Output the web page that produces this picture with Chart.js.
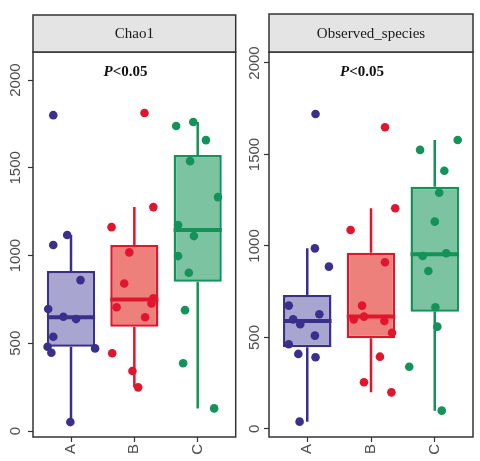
<!DOCTYPE html>
<html>
<head>
<meta charset="utf-8">
<script src="https://cdn.jsdelivr.net/npm/chart.js@4.4.1/dist/chart.umd.min.js"></script>
<style>
  body { margin: 0; background: #fff; }
  .panel { position: absolute; top: 0; width: 240px; height: 461px; }
</style>
</head>
<body>
<div class="panel" style="left:0"><canvas id="chartChao1"></canvas></div>
<div class="panel" style="left:240px"><canvas id="chartObserved"></canvas></div>
<script>
// ==========================
//  Datos
// ==========================
const grupos = ["A", "B", "C"];
const ticksY = [0, 500, 1000, 1500, 2000];

// Chao1: puntos por grupo y su desplazamiento (jitter) en unidades de grupo
const chao1A = [1800, 1060, 1117, 860, 695, 651, 638, 537, 480, 446, 471, 51];
const chao1AJit = [-0.28, -0.28, -0.06, 0.15, -0.36, -0.12, 0.08, -0.28, -0.37, -0.31, 0.38, -0.01];
const chao1B = [1812, 1276, 1162, 1018, 841, 705, 727, 756, 648, 443, 342, 249];
const chao1BJit = [0.16, 0.3, -0.36, -0.08, -0.16, -0.28, 0.27, 0.3, 0.17, -0.35, -0.03, 0.06];
const chao1C = [1738, 1761, 1658, 1538, 1333, 1174, 1111, 997, 902, 689, 386, 129];
const chao1CJit = [-0.34, -0.07, 0.13, -0.12, 0.32, -0.31, -0.06, -0.31, -0.14, -0.2, -0.23, 0.26];

// Chao1: cajas
const chao1Min = [51, 249, 129];
const chao1Q1 = [480, 594, 851];
const chao1Med = [648, 750, 1145];
const chao1Q3 = [912, 1060, 1573];
const chao1Max = [1117, 1276, 1761];

// Observed_species: puntos
const obsA = [1721, 987, 887, 674, 627, 599, 572, 510, 463, 410, 392, 40];
const obsAJit = [0.13, 0.12, 0.34, -0.29, 0.19, -0.22, -0.11, 0.12, -0.29, -0.14, 0.13, -0.12];
const obsB = [1649, 1206, 1087, 911, 674, 599, 614, 590, 526, 395, 255, 200];
const obsBJit = [0.22, 0.38, -0.32, 0.22, -0.14, -0.27, -0.11, 0.21, 0.33, 0.14, -0.11, 0.32];
const obsC = [1525, 1579, 1411, 1291, 1133, 945, 960, 863, 665, 559, 340, 100];
const obsCJit = [-0.23, 0.36, 0.15, 0.07, 0, -0.19, 0.18, -0.1, 0.01, 0.04, -0.4, 0.11];

// Observed_species: cajas
const obsMin = [40, 200, 100];
const obsQ1 = [446, 496, 641];
const obsMed = [590, 614, 955];
const obsQ3 = [732, 963, 1324];
const obsMax = [987, 1206, 1579];

// ==========================
//  Estilos
// ==========================
const colLinea = ["#3b2f8c", "#e0162f", "#13935a"];
const colRelleno = ["#a9a5d1", "#ee807c", "#7cc3a1"];
const serif = "'Liberation Serif', 'DejaVu Serif', serif";
const sans = "'Liberation Sans', Arial, sans-serif";

// ==========================
//  Plugin: bigotes, mediana, marco, cabecera y P
// ==========================
const pluginCajas = {
  id: "cajas",
  beforeDatasetsDraw(chart, args, opts) {
    const ctx = chart.ctx;
    const x = chart.scales.x, y = chart.scales.y;
    ctx.save();
    ctx.lineWidth = 2.5;
    grupos.forEach((g, i) => {
      const px = x.getPixelForValue(i + 1);
      ctx.strokeStyle = colLinea[i];
      ctx.beginPath();
      ctx.moveTo(px, y.getPixelForValue(opts.min[i]));
      ctx.lineTo(px, y.getPixelForValue(opts.q1[i]));
      ctx.moveTo(px, y.getPixelForValue(opts.q3[i]));
      ctx.lineTo(px, y.getPixelForValue(opts.max[i]));
      ctx.stroke();
    });
    ctx.restore();
  },
  afterDatasetDraw(chart, args, opts) {
    if (args.index !== 0) return;
    const ctx = chart.ctx;
    const y = chart.scales.y;
    const meta = chart.getDatasetMeta(0);
    ctx.save();
    ctx.lineWidth = 4;
    meta.data.forEach((bar, i) => {
      const py = y.getPixelForValue(opts.med[i]);
      ctx.strokeStyle = colLinea[i];
      ctx.beginPath();
      ctx.moveTo(bar.x - bar.width / 2, py);
      ctx.lineTo(bar.x + bar.width / 2, py);
      ctx.stroke();
    });
    ctx.restore();
  },
  afterDraw(chart, args, opts) {
    const ctx = chart.ctx;
    const a = chart.chartArea;
    ctx.save();
    // marco del panel
    ctx.strokeStyle = "#333";
    ctx.lineWidth = 1.5;
    ctx.strokeRect(a.left, a.top, a.right - a.left, a.bottom - a.top);
    // cabecera gris
    const top = opts.stripTop;
    ctx.fillStyle = "#e4e4e4";
    ctx.fillRect(a.left, top, a.right - a.left, a.top - top);
    ctx.strokeRect(a.left, top, a.right - a.left, a.top - top);
    ctx.fillStyle = "#1a1a1a";
    ctx.font = "15px " + serif;
    ctx.textAlign = "center";
    ctx.textBaseline = "middle";
    ctx.fillText(opts.titulo, (a.left + a.right) / 2, (top + a.top) / 2 + 1);
    // P<0.05
    const cx = chart.scales.x.getPixelForValue(opts.pX);
    const ty = a.top + 20;
    const fP = "italic bold 15px " + serif;
    const fR = "bold 15px " + serif;
    ctx.font = fP;
    const wP = ctx.measureText("P").width;
    ctx.font = fR;
    const wR = ctx.measureText("<0.05").width;
    const x0 = cx - (wP + wR) / 2;
    ctx.textAlign = "left";
    ctx.fillStyle = "#111";
    ctx.font = fP;
    ctx.fillText("P", x0, ty);
    ctx.font = fR;
    ctx.fillText("<0.05", x0 + wP, ty);
    ctx.restore();
  },
};

// ==========================
//  Crear un panel
// ==========================
function crearPanel(id, cfg) {
  const puntos = cfg.puntos.map((vals, i) => ({
    type: "scatter",
    data: vals.map((v, k) => ({ x: i + 1 + cfg.jitter[i][k], y: v })),
    pointRadius: 4.3,
    pointHoverRadius: 4.3,
    pointBackgroundColor: colLinea[i],
    pointBorderWidth: 0,
    order: 1,
  }));

  new Chart(document.getElementById(id), {
    type: "bar",
    data: {
      datasets: [
        {
          type: "bar",
          data: grupos.map((g, i) => ({ x: i + 1, y: [cfg.q1[i], cfg.q3[i]] })),
          backgroundColor: colRelleno,
          borderColor: colLinea,
          borderWidth: 2.5,
          borderSkipped: false,
          categoryPercentage: 1,
          barPercentage: 0.76,
          order: 2,
        },
        ...puntos,
      ],
    },
    options: {
      responsive: true,
      maintainAspectRatio: false,
      animation: false,
      events: [],
      layout: { padding: { left: 0, right: cfg.padRight, top: 52, bottom: 0 } },
      plugins: {
        legend: { display: false },
        tooltip: { enabled: false },
        cajas: {
          titulo: cfg.titulo,
          stripTop: cfg.stripTop,
          pX: 1.86,
          min: cfg.min, q1: cfg.q1, med: cfg.med, q3: cfg.q3, max: cfg.max,
        },
      },
      scales: {
        x: {
          type: "linear",
          min: 0.4,
          max: 3.6,
          offset: false,
          afterBuildTicks: (s) => { s.ticks = grupos.map((g, i) => ({ value: i + 1 })); },
          afterFit: (s) => { s.height = 24; },
          grid: { offset: false, drawOnChartArea: false, tickLength: 5, tickColor: "#333", tickWidth: 1.2 },
          border: { display: false },
          ticks: {
            minRotation: 90,
            maxRotation: 90,
            padding: 2,
            color: "#4d4d4d",
            font: { family: sans, size: 15 },
            callback: (v) => grupos[v - 1],
          },
        },
        y: {
          min: cfg.yMin,
          max: cfg.yMax,
          afterBuildTicks: (s) => { s.ticks = ticksY.map((v) => ({ value: v })); },
          afterFit: (s) => { s.width = cfg.ejeAncho; },
          grid: { drawOnChartArea: false, tickLength: 5, tickColor: "#333", tickWidth: 1.2 },
          border: { display: false },
          ticks: {
            minRotation: 90,
            maxRotation: 90,
            crossAlign: "center",
            padding: cfg.tickPad,
            color: "#4d4d4d",
            font: { family: sans, size: 15 },
            callback: (v) => String(v),
          },
        },
      },
    },
    plugins: [pluginCajas],
  });
}

document.addEventListener("DOMContentLoaded", () => {
  crearPanel("chartChao1", {
    titulo: "Chao1",
    puntos: [chao1A, chao1B, chao1C],
    jitter: [chao1AJit, chao1BJit, chao1CJit],
    min: chao1Min, q1: chao1Q1, med: chao1Med, q3: chao1Q3, max: chao1Max,
    yMin: -34, yMax: 2160,
    ejeAncho: 33, padRight: 4, tickPad: -5, stripTop: 15,
  });
  crearPanel("chartObserved", {
    titulo: "Observed_species",
    puntos: [obsA, obsB, obsC],
    jitter: [obsAJit, obsBJit, obsCJit],
    min: obsMin, q1: obsQ1, med: obsMed, q3: obsQ3, max: obsMax,
    yMin: -44, yMax: 2060,
    ejeAncho: 29, padRight: 7, tickPad: -8, stripTop: 14,
  });
});
</script>
</body>
</html>
